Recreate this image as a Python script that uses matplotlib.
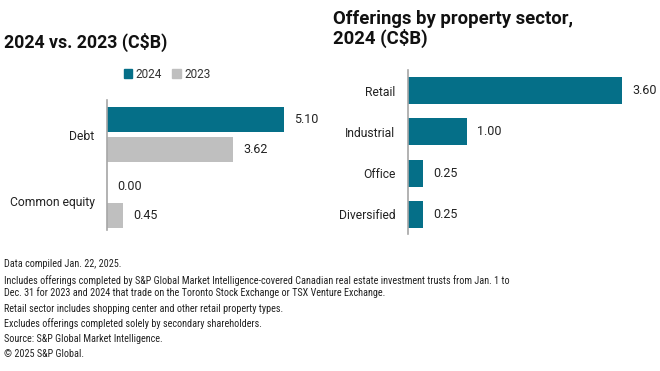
import matplotlib
matplotlib.use("Agg")
import matplotlib.pyplot as plt
from matplotlib.patches import Patch

# left panel: debt vs common equity
types = ["Debt", "Common equity"]
vals_2024 = [5.10, 0.00]
vals_2023 = [3.62, 0.45]

# right panel: 2024 offerings by sector
sectors = ["Retail", "Industrial", "Office", "Diversified"]
sector_vals = [3.60, 1.00, 0.25, 0.25]

notes = [
    "Data compiled Jan. 22, 2025.",
    "Includes offerings completed by S&P Global Market Intelligence-covered Canadian real estate investment trusts from Jan. 1 to\n"
    "Dec. 31 for 2023 and 2024 that trade on the Toronto Stock Exchange or TSX Venture Exchange.",
    "Retail sector includes shopping center and other retail property types.",
    "Excludes offerings completed solely by secondary shareholders.",
    "Source: S&P Global Market Intelligence.",
    "\u00a9 2025 S&P Global.",
]

TEAL = "#056f88"
GRAY = "#bfbfbf"
AXC = "#a6a6a6"
plt.rcParams["font.family"] = ["Roboto", "DejaVu Sans"]

W, H = 660, 371
fig = plt.figure(figsize=(W / 100, H / 100), dpi=100)


def px_axes(left, top, right, bottom):
    return fig.add_axes([left / W, 1 - bottom / H, (right - left) / W, (bottom - top) / H])


def style(ax):
    for s in ["top", "right", "bottom"]:
        ax.spines[s].set_visible(False)
    ax.spines["left"].set_color(AXC)
    ax.spines["left"].set_linewidth(1.2)
    ax.set_xticks([])
    ax.tick_params(axis="y", length=0, pad=9, labelsize=8.7, labelcolor="#222222")


# ---- left chart
ax1 = px_axes(107, 100, 330, 230)
pos = list(range(len(types)))
off = 0.22
h = 0.376
ax1.barh([p - off for p in pos], vals_2024, height=h, color=TEAL)
ax1.barh([p + off for p in pos], vals_2023, height=h, color=GRAY)
ax1.set_xlim(0, 223 / 34.7)
ax1.set_ylim(1.436, -0.519)
ax1.set_yticks(pos)
ax1.set_yticklabels(types)
style(ax1)
for p, v in zip(pos, vals_2024):
    ax1.text(v + 0.3, p - off, f"{v:.2f}", va="center", ha="left", fontsize=9, color="#222222")
for p, v in zip(pos, vals_2023):
    ax1.text(v + 0.3, p + off, f"{v:.2f}", va="center", ha="left", fontsize=9, color="#222222")

fig.legend(handles=[Patch(color=TEAL, label="2024"), Patch(color=GRAY, label="2023")],
           loc="center", bbox_to_anchor=(167 / W, 1 - 74 / H), ncol=2, frameon=False,
           fontsize=8.5, handlelength=0.7, handleheight=0.7, handletextpad=0.3,
           columnspacing=0.9, labelcolor="#333333")

fig.text(4 / W, 1 - 42 / H, "2024 vs. 2023 (C$B)", fontsize=12.8, fontweight="bold",
         va="center", ha="left", color="#111111")

# ---- right chart
ax2 = px_axes(408, 70, 660, 234)
spos = list(range(len(sectors)))
ax2.barh(spos, sector_vals, height=0.655, color=TEAL)
ax2.set_xlim(0, 252 / 59.4)
ax2.set_ylim(3.48, -0.5)
ax2.set_yticks(spos)
ax2.set_yticklabels(sectors)
style(ax2)
for p, v in zip(spos, sector_vals):
    ax2.text(v + 0.17, p, f"{v:.2f}", va="center", ha="left", fontsize=9, color="#222222")

fig.text(333 / W, 1 - 29 / H, "Offerings by property sector,\n2024 (C$B)", fontsize=13.3,
         fontweight="bold", va="center", ha="left", color="#111111", linespacing=1.0)

# ---- footnotes
ys = [264, 286.5, 309, 323.5, 339, 354]
for y, t in zip(ys, notes):
    fig.text(4 / W, 1 - y / H, t, fontsize=7.3, va="center", ha="left", color="#222222",
             family=["Liberation Sans Narrow", "Roboto Condensed", "Roboto", "DejaVu Sans"],
             linespacing=1.2)

fig.savefig("out.png", dpi=100, facecolor="white")
